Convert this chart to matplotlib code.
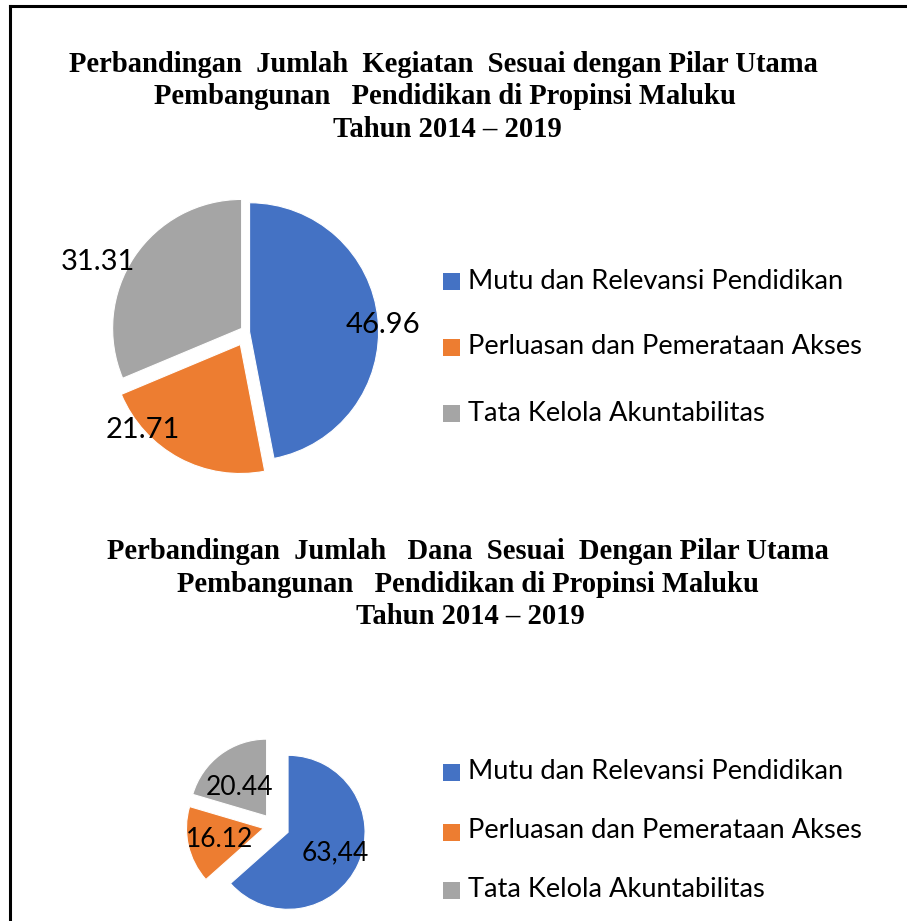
import matplotlib
matplotlib.use("Agg")
import matplotlib.pyplot as plt
from matplotlib.patches import Rectangle
from matplotlib.lines import Line2D
import numpy as np

# ---------------- data ----------------
categories = ["Mutu dan Relevansi Pendidikan",
              "Perluasan dan Pemerataan Akses",
              "Tata Kelola Akuntabilitas"]
kegiatan_values = [46.96, 21.71, 31.31]
kegiatan_labels = ["46.96", "21.71", "31.31"]
dana_values = [63.44, 16.12, 20.44]
dana_labels = ["63,44", "16.12", "20.44"]

title1 = ["Perbandingan  Jumlah  Kegiatan  Sesuai dengan Pilar Utama",
          "Pembangunan   Pendidikan di Propinsi Maluku",
          "Tahun 2014 \u2013 2019"]
title2 = ["Perbandingan  Jumlah   Dana  Sesuai  Dengan Pilar Utama",
          "Pembangunan   Pendidikan di Propinsi Maluku",
          "Tahun 2014 \u2013 2019"]

# ---------------- style ----------------
colors = ["#4472C4", "#ED7D31", "#A5A5A5"]
W, H = 907, 921
fig = plt.figure(figsize=(W / 100, H / 100), dpi=100)
fig.patch.set_facecolor("white")

SANS = ["Lato", "DejaVu Sans"]
SERIF = ["Liberation Serif", "DejaVu Serif"]


def px_axes(cx, cy, half):
    return fig.add_axes([(cx - half) / W, (H - cy - half) / H, 2 * half / W, 2 * half / H])


def draw_pie(cx, cy, r, half, values, labels, explode, lab_ang, lab_dist, fs):
    ax = px_axes(cx, cy, half)
    wedges, _ = ax.pie(values, colors=colors, startangle=90, counterclock=False,
                       explode=explode, radius=1,
                       wedgeprops=dict(linewidth=0.8, edgecolor="white"))
    lim = half / r
    ax.set_xlim(-lim, lim)
    ax.set_ylim(-lim, lim)
    ax.set_aspect("equal")
    ax.axis("off")
    for w in wedges:
        w.set_clip_on(False)
    for lab, a, d in zip(labels, lab_ang, lab_dist):
        t = np.deg2rad(a)
        ax.text(d * np.cos(t), d * np.sin(t), lab, ha="center", va="center",
                fontsize=fs, family=SANS, color="black", clip_on=False)
    return ax


def draw_title(lines, xs, ys, fs):
    for ln, x, y in zip(lines, xs, ys):
        fig.text(x / W, 1 - y / H, ln, ha="center", va="center", fontsize=fs,
                 family=SERIF, fontweight="bold", color="black")


def draw_legend(x0, ys, size, fs):
    for cat, col, y in zip(categories, colors, ys):
        fig.patches.append(Rectangle(((x0) / W, 1 - (y + size / 2) / H), size / W, size / H,
                                     transform=fig.transFigure, facecolor=col,
                                     edgecolor="none"))
        fig.text((x0 + size + 8) / W, 1 - (y - 1) / H, cat, ha="left", va="center",
                 fontsize=fs, family=SANS, color="black")


# frame lines (top and left)
fig.add_artist(Line2D([10 / W, 1.0], [1 - 6 / H, 1 - 6 / H], transform=fig.transFigure,
                      color="black", linewidth=2.2))
fig.add_artist(Line2D([10 / W, 10 / W], [1 - 6 / H, 0.0], transform=fig.transFigure,
                      color="black", linewidth=2.2))

# chart 1
draw_title(title1, [443, 445, 447], [64, 97, 129], 20.6)
draw_pie(247, 332, 129, 170, kegiatan_values, kegiatan_labels,
         explode=[0.02, 0.11, 0.05],
         lab_ang=[2.9, -136.7, 154.8], lab_dist=[1.056, 1.108, 1.276], fs=21)
draw_legend(443, [282, 348, 414], 17, 19.6)

# chart 2
draw_title(title2, [468, 468, 470], [551, 584, 616], 20.6)
draw_pie(274, 826, 77, 100, dana_values, dana_labels,
         explode=[0.2, 0.14, 0.16],
         lab_ang=[-23.9, -165.5, 132], lab_dist=[0.866, 0.725, 0.667], fs=19)
draw_legend(443, [772, 832, 890], 17, 19.6)

fig.savefig("out.png", dpi=100, facecolor="white")
